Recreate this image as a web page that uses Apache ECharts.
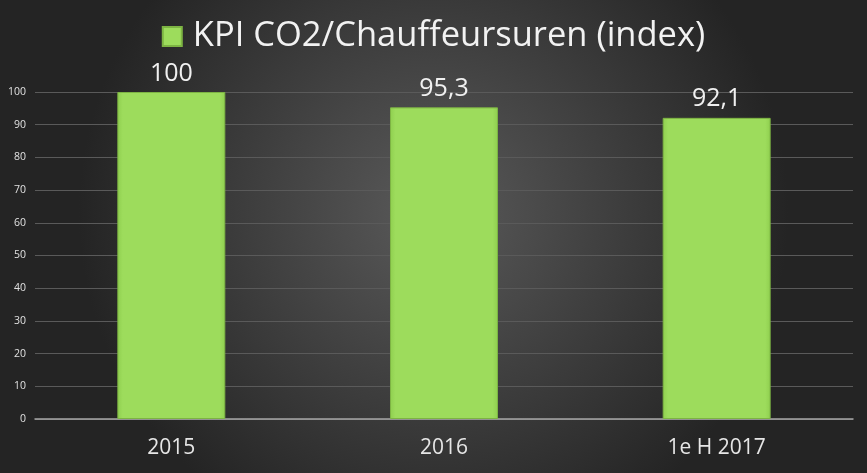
<!DOCTYPE html>
<html>
<head>
<meta charset="utf-8">
<script src="https://cdn.jsdelivr.net/npm/echarts@6/dist/echarts.min.js"></script>
<style>html,body{margin:0;padding:0;background:#333;}#c{width:867px;height:473px;}</style>
</head>
<body>
<div id="c"></div>
<script>
const categories = ['2015', '2016', '1e H 2017'];
const values = [100, 95.3, 92.1];
const valueLabels = ['100', '95,3', '92,1'];
const seriesName = 'KPI CO2/Chauffeursuren (index)';

const chart = echarts.init(document.getElementById('c'));
chart.setOption({
  backgroundColor: {
    type: 'radial', x: 0.5, y: 0.45, r: 0.75,
    colorStops: [{offset: 0, color: '#5a5a5a'}, {offset: 1, color: '#242424'}]
  },
  animation: false,
  legend: {
    top: 14, left: 'center',
    itemWidth: 19, itemHeight: 19, itemGap: 10,
    textStyle: {color: '#f2f2f2', fontSize: 34.5, fontFamily: 'Open Sans', padding: [0, 0, 0, 6]},
    data: [{name: seriesName, icon: 'rect'}]
  },
  grid: {left: 35, right: 14, top: 92, bottom: 54, containLabel: false},
  xAxis: {
    type: 'category', data: categories,
    axisLine: {lineStyle: {color: '#a6a6a6', width: 1.5}},
    axisTick: {show: false},
    axisLabel: {color: '#e6e6e6', fontSize: 21, fontFamily: 'Open Sans', margin: 19}
  },
  yAxis: {
    type: 'value', min: 0, max: 100, interval: 10,
    axisLine: {show: false}, axisTick: {show: false},
    splitLine: {lineStyle: {color: '#5a5a5a', width: 1}},
    axisLabel: {color: '#e0e0e0', fontSize: 10.5, fontFamily: 'Open Sans', margin: 9}
  },
  series: [{
    name: seriesName, type: 'bar', barWidth: '39.6%',
    data: values,
    itemStyle: {
      color: {type: 'linear', x: 0, y: 0, x2: 1, y2: 0, colorStops: [
        {offset: 0, color: '#8fcf4f'}, {offset: 0.05, color: '#9ddc5c'},
        {offset: 0.95, color: '#9ddc5c'}, {offset: 1, color: '#8fcf4f'}]},
      borderColor: '#7db443', borderWidth: 1
    },
    label: {
      show: true, position: 'top', distance: 6,
      color: '#f0f0f0', fontSize: 25, fontFamily: 'Open Sans',
      formatter: p => valueLabels[p.dataIndex]
    }
  }]
});
</script>
</body>
</html>
